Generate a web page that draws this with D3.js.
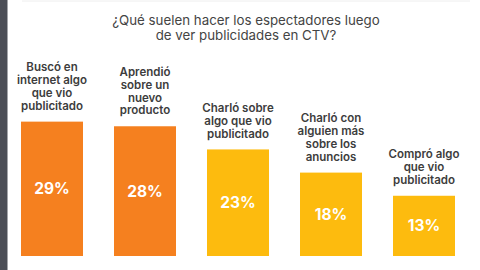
<!DOCTYPE html>
<html><head><meta charset="utf-8">
<script src="https://cdn.jsdelivr.net/npm/d3@7"></script>
<style>body{margin:0;background:#fff}svg{display:block}</style>
</head><body>
<script>
const categories = [
  ["Buscó en","internet algo","que vio","publicitado"],
  ["Aprendió","sobre un","nuevo","producto"],
  ["Charló sobre","algo que vio","publicitado"],
  ["Charló con","alguien más","sobre los","anuncios"],
  ["Compró algo","que vio","publicitado"]
];
const values = [29, 28, 23, 18, 13];
const colors = ["#F5801F","#F5801F","#FDBB0E","#FDBB0E","#FDBB0E"];
const titleLines = ["¿Qué suelen hacer los espectadores luego","de ver publicidades en CTV?"];

const W = 480, H = 270;
const svg = d3.select("body").append("svg").attr("width", W).attr("height", H);
svg.append("rect").attr("x",0).attr("y",0).attr("width",7.5).attr("height",H).attr("fill","#4b4e56");
svg.append("line").attr("x1",22).attr("x2",470).attr("y1",1).attr("y2",1).attr("stroke","#eee");

const x = d3.scaleBand().domain(d3.range(values.length)).range([21, 455]).paddingInner(1/3).paddingOuter(0);
const y = d3.scaleLinear().domain([0, 30]).range([256, 117]);

const title = svg.append("text")
  .attr("text-anchor","middle").attr("font-family","Inter, sans-serif")
  .attr("font-size", 13.3).attr("fill","#444");
title.selectAll("tspan").data(titleLines).join("tspan")
  .attr("x", 246).attr("y", (d,i)=>25 + i*15).text(d=>d);

const g = svg.selectAll("g.bar").data(values).join("g").attr("class","bar");
g.append("rect")
  .attr("x",(d,i)=>x(i)).attr("width",x.bandwidth())
  .attr("y",d=>y(d)).attr("height",d=>y(0)-y(d))
  .attr("fill",(d,i)=>colors[i]);
g.append("text")
  .attr("x",(d,i)=>x(i)+x.bandwidth()/2)
  .attr("y",d=>(y(d)+y(0))/2)
  .attr("dy","0.36em").attr("text-anchor","middle")
  .attr("font-family","Inter, sans-serif").attr("font-weight",700)
  .attr("font-size",15.5).attr("fill","#fff")
  .text(d=>d+"%");
g.each(function(d,i){
  const lines = categories[i];
  const t = d3.select(this).append("text")
    .attr("text-anchor","middle").attr("font-family","Inter, sans-serif")
    .attr("font-weight",600).attr("font-size",11.5).attr("fill","#3d3d3d");
  lines.forEach((ln,k)=>{
    t.append("tspan").attr("x", x(i)+x.bandwidth()/2)
      .attr("y", y(d) - 16 - (lines.length-1-k)*12.8)
      .attr("dy","0.36em").text(ln);
  });
});
</script>
</body></html>
